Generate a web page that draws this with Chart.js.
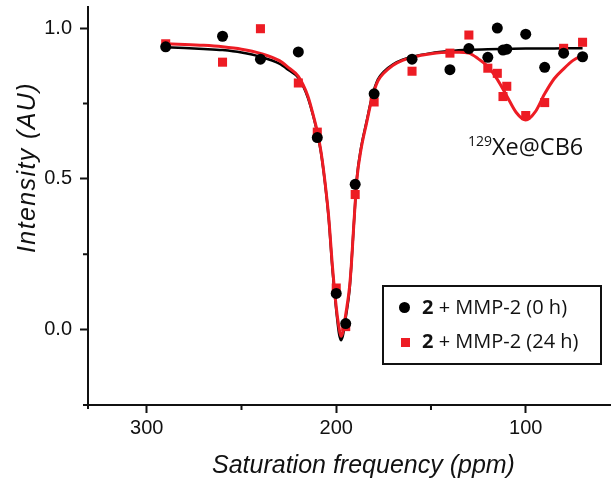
<!DOCTYPE html>
<html>
<head>
<meta charset="utf-8">
<script src="https://cdn.jsdelivr.net/npm/chart.js@4"></script>
<style>
  body { margin: 0; background: #fff; }
  #wrap { position: relative; width: 611px; height: 479px; }
  .axtitle { position: absolute; font-family: "Liberation Sans", Arial, sans-serif; font-style: italic; font-size: 25px; line-height: 25px; color: #111; white-space: nowrap; }
  #legend { position: absolute; left: 382px; top: 285px; width: 216px; height: 76px; border: 2px solid #111; font-family: "Open Sans", sans-serif; font-size: 20px; color: #111; }
  .row { position: absolute; left: 0; white-space: nowrap; line-height: 22px; }
  .row b { font-weight: 700; }
  .mk { position: absolute; }
  #note { position: absolute; left: 468px; top: 127px; font-family: "Open Sans", sans-serif; font-size: 23.5px; color: #111; white-space: nowrap; line-height: 28px; }
  #note sup { font-size: 14px; vertical-align: 9px; }
</style>
</head>
<body>
<div id="wrap">
  <canvas id="grafica" width="611" height="479"></canvas>
  <div class="axtitle" id="ytitle" style="left:14px; top:253px; transform-origin:0 0; transform:rotate(-90deg); letter-spacing:1.4px;">Intensity (AU)</div>
  <div class="axtitle" id="xtitle" style="left:212px; top:452px;">Saturation frequency (ppm)</div>
  <div id="legend">
    <div class="mk" style="left:15px; top:15px; width:11px; height:11px; border-radius:50%; background:#000;"></div>
    <div class="row" style="left:38px; top:9px;"><b>2</b> + MMP-2 (0 h)</div>
    <div class="mk" style="left:17px; top:51px; width:9px; height:9px; background:#ed1c24;"></div>
    <div class="row" style="left:38px; top:43px;"><b>2</b> + MMP-2 (24 h)</div>
  </div>
  <div id="note"><sup>129</sup>Xe@CB6</div>
</div>
<script>
// valores

// puntos medidos (misma frecuencia para las dos series)
const frecPuntos = [290, 260, 240, 220, 210, 200, 195, 190, 180, 160, 140, 130, 120, 115, 112, 110, 100, 90, 80, 70];
const puntos0h  = [0.938, 0.973, 0.897, 0.921, 0.637, 0.12, 0.02, 0.482, 0.782, 0.897, 0.862, 0.932, 0.903, 1.0, 0.927, 0.93, 0.98, 0.87, 0.917, 0.905];
const puntos24h = [0.948, 0.887, 0.998, 0.818, 0.655, 0.138, 0.01, 0.448, 0.755, 0.857, 0.917, 0.977, 0.867, 0.85, 0.773, 0.807, 0.71, 0.753, 0.933, 0.953];

// curvas de ajuste
const frecAjuste0h = [290, 280, 270, 260, 250, 240, 230, 225, 220, 215, 212, 210, 208, 206, 204, 202, 200, 198.5, 197.5, 196.5, 195, 193, 192, 191, 190, 189, 187, 184, 181, 178, 175, 170, 165, 160, 150, 140, 130, 120, 110, 100, 90, 80, 70];
const ajuste0h = [0.936, 0.934, 0.931, 0.927, 0.919, 0.905, 0.882, 0.86, 0.835, 0.77, 0.705, 0.652, 0.585, 0.49, 0.37, 0.2, 0.065, -0.015, -0.035, -0.02, 0.04, 0.13, 0.217, 0.32, 0.42, 0.51, 0.6, 0.69, 0.775, 0.83, 0.855, 0.88, 0.895, 0.905, 0.917, 0.924, 0.928, 0.93, 0.931, 0.932, 0.932, 0.933, 0.933];

const frecAjuste24h = [290, 280, 270, 260, 250, 240, 230, 225, 220, 215, 212, 210, 208, 206, 204, 202, 200, 198.5, 197.5, 196.5, 195, 193, 192, 191, 190, 189, 187, 184, 181, 178, 175, 170, 165, 160, 150, 140, 135, 130, 125, 120, 115, 110, 105, 100, 95, 90, 85, 80, 75, 70];
const ajuste24h = [0.948, 0.946, 0.943, 0.938, 0.93, 0.916, 0.892, 0.868, 0.84, 0.775, 0.708, 0.657, 0.588, 0.493, 0.375, 0.21, 0.075, 0.005, -0.022, -0.008, 0.05, 0.14, 0.217, 0.32, 0.42, 0.505, 0.595, 0.685, 0.77, 0.825, 0.85, 0.877, 0.893, 0.903, 0.915, 0.92, 0.92, 0.917, 0.898, 0.873, 0.83, 0.775, 0.72, 0.695, 0.722, 0.782, 0.832, 0.865, 0.893, 0.91];

// ejes
const xMayores = [300, 200, 100];
const xMenores = [250, 150];
const yMayores = [0, 0.5, 1.0];
const yMenores = [0.25, 0.75];

const ROJO = '#ed1c24';
const NEGRO = '#000000';

function pares(xs, ys) {
  return xs.map((x, i) => ({ x: x, y: ys[i] }));
}

// marcas menores y esquina de los ejes
const marcasMenores = {
  id: 'marcasMenores',
  afterDraw(chart) {
    const ctx = chart.ctx;
    const area = chart.chartArea;
    const sx = chart.scales.x;
    const sy = chart.scales.y;
    ctx.save();
    ctx.strokeStyle = '#111';
    ctx.lineWidth = 2;
    ctx.beginPath();
    xMenores.forEach(v => {
      const px = sx.getPixelForValue(v);
      ctx.moveTo(px, area.bottom);
      ctx.lineTo(px, area.bottom + 5);
    });
    yMenores.forEach(v => {
      const py = sy.getPixelForValue(v);
      ctx.moveTo(area.left, py);
      ctx.lineTo(area.left - 5, py);
    });
    // el eje x sobresale un poco a la izquierda y el y por debajo
    ctx.moveTo(area.left - 5, area.bottom);
    ctx.lineTo(area.left, area.bottom);
    ctx.moveTo(area.left, area.bottom);
    ctx.lineTo(area.left, area.bottom + 4);
    ctx.stroke();
    ctx.restore();
  }
};

const ctx = document.getElementById('grafica').getContext('2d');

window.miGrafica = new Chart(ctx, {
  type: 'scatter',
  data: {
    datasets: [
      {
        label: 'ajuste 0 h',
        type: 'line',
        data: pares(frecAjuste0h, ajuste0h),
        borderColor: NEGRO,
        borderWidth: 2.5,
        pointRadius: 0,
        cubicInterpolationMode: 'monotone',
        fill: false,
        order: 4
      },
      {
        label: 'ajuste 24 h',
        type: 'line',
        data: pares(frecAjuste24h, ajuste24h),
        borderColor: ROJO,
        borderWidth: 3,
        pointRadius: 0,
        cubicInterpolationMode: 'monotone',
        fill: false,
        order: 3
      },
      {
        label: '2 + MMP-2 (24 h)',
        data: pares(frecPuntos, puntos24h),
        pointStyle: 'rect',
        pointRadius: 6.4,
        backgroundColor: ROJO,
        borderWidth: 0,
        order: 2
      },
      {
        label: '2 + MMP-2 (0 h)',
        data: pares(frecPuntos, puntos0h),
        pointStyle: 'circle',
        pointRadius: 5.5,
        backgroundColor: NEGRO,
        borderWidth: 0,
        order: 1
      }
    ]
  },
  options: {
    responsive: false,
    animation: false,
    events: [],
    layout: { autoPadding: false, padding: { top: 7, right: 0, left: 0, bottom: 0 } },
    plugins: {
      legend: { display: false },
      tooltip: { enabled: false }
    },
    scales: {
      x: {
        type: 'linear',
        reverse: true,
        min: 55,
        max: 331,
        afterBuildTicks: s => { s.ticks = xMayores.map(v => ({ value: v })); },
        afterFit: s => { s.height = 74; s.paddingLeft = 0; s.paddingRight = 0; },
        ticks: {
          autoSkip: false,
          maxRotation: 0,
          padding: 3,
          color: '#111',
          font: { family: 'Liberation Sans, Arial, sans-serif', size: 20 },
          callback: v => String(v)
        },
        grid: { drawOnChartArea: false, drawTicks: true, tickLength: 8, tickWidth: 2, tickColor: '#111' },
        border: { display: true, color: '#111', width: 2 }
      },
      y: {
        type: 'linear',
        min: -0.25,
        max: 1.07,
        afterBuildTicks: s => { s.ticks = yMayores.map(v => ({ value: v })); },
        afterFit: s => { s.width = 88; s.paddingTop = 0; s.paddingBottom = 0; },
        ticks: {
          autoSkip: false,
          padding: 8,
          color: '#111',
          font: { family: 'Liberation Sans, Arial, sans-serif', size: 20 },
          callback: v => Number(v).toFixed(1)
        },
        grid: { drawOnChartArea: false, drawTicks: true, tickLength: 8, tickWidth: 2, tickColor: '#111' },
        border: { display: true, color: '#111', width: 2 }
      }
    }
  },
  plugins: [marcasMenores]
});
</script>
</body>
</html>
